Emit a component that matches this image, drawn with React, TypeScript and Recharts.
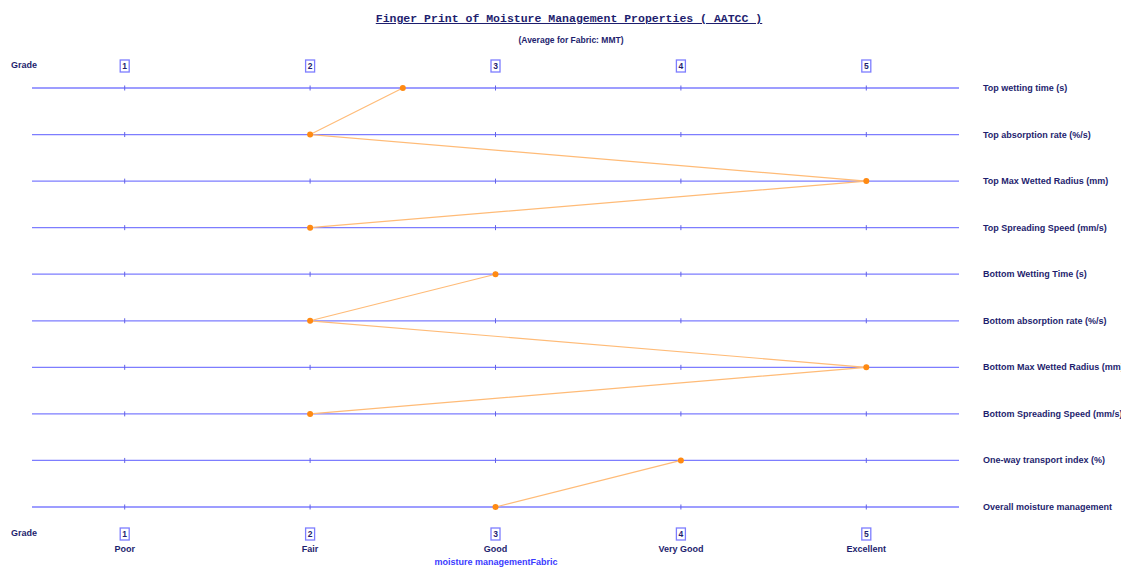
import {
  ComposedChart,
  Line,
  Scatter,
  XAxis,
  YAxis,
  CartesianGrid,
} from 'recharts'

const properties = [
  'Top wetting time (s)',
  'Top absorption rate (%/s)',
  'Top Max Wetted Radius (mm)',
  'Top Spreading Speed (mm/s)',
  'Bottom Wetting Time (s)',
  'Bottom absorption rate (%/s)',
  'Bottom Max Wetted Radius (mm)',
  'Bottom Spreading Speed (mm/s)',
  'One-way transport index (%)',
  'Overall moisture management',
]

const grades = [2.5, 2, 5, 2, 3, 2, 5, 2, 4, 3]

// rows joined by one polyline: top surface, bottom surface, overall
const groups = [
  [0, 1, 2, 3],
  [4, 5, 6, 7],
  [8, 9],
]

const gradeTicks = [1, 2, 3, 4, 5]
const gradeNames = ['Poor', 'Fair', 'Good', 'Very Good', 'Excellent']

const NAVY = '#1e1e6e'
const BLUE = '#7d7dff'
const FONT = '"Liberation Sans", Arial, sans-serif'

const rows = properties.map((name, i) => ({ idx: i, name, grade: grades[i] }))
const rowIdx = properties.map((_, i) => i)
const tickMarks = rowIdx.flatMap((i) => gradeTicks.map((g) => ({ idx: i, grade: g })))

function GradeBox({ x, y, value }: { x: number; y: number; value: number }) {
  return (
    <g>
      <rect x={x - 4.5} y={y - 6} width={9} height={12} fill="#fff" stroke={BLUE} strokeWidth={1.3} />
      <text x={x} y={y + 3} textAnchor="middle" fontFamily={FONT} fontWeight="bold" fontSize={8.5} fill={NAVY}>
        {value}
      </text>
    </g>
  )
}

function TopTick(props: any) {
  const { x, y, payload } = props
  return <GradeBox x={x} y={y - 22} value={payload.value} />
}

function BottomTick(props: any) {
  const { x, y, payload } = props
  const name = gradeNames[gradeTicks.indexOf(payload.value)]
  return (
    <g>
      <GradeBox x={x} y={y + 27} value={payload.value} />
      <text x={x} y={y + 45} textAnchor="middle" fontFamily={FONT} fontWeight="bold" fontSize={9} fill={NAVY}>
        {name}
      </text>
    </g>
  )
}

function RowTick(props: any) {
  const { x, y, payload } = props
  return (
    <text x={x + 24} y={y + 3} textAnchor="start" fontFamily={FONT} fontWeight="bold" fontSize={9} fill={NAVY}>
      {properties[payload.value]}
    </text>
  )
}

function TickMark(props: any) {
  const { cx, cy } = props
  return <line x1={cx} y1={cy - 2.5} x2={cx} y2={cy + 2.5} stroke="#6262e6" strokeWidth={1} />
}

export default function App() {
  return (
    <div
      style={{
        position: 'absolute',
        left: 0,
        top: 0,
        width: 1121,
        height: 570,
        background: '#fff',
        fontFamily: FONT,
        overflow: 'hidden',
      }}
    >
      <ComposedChart
        layout="vertical"
        width={1121}
        height={570}
        data={rows}
        margin={{ top: 0, right: 0, bottom: 0, left: 32 }}
      >
        <CartesianGrid vertical={false} stroke={BLUE} strokeWidth={1.3} xAxisId="bottom" yAxisId="rows" />
        <XAxis
          xAxisId="top"
          orientation="top"
          type="number"
          dataKey="grade"
          domain={[0.5, 5.5]}
          ticks={gradeTicks}
          height={88}
          axisLine={false}
          tickLine={false}
          tickSize={0}
          tickMargin={0}
          tick={<TopTick />}
        />
        <XAxis
          xAxisId="bottom"
          orientation="bottom"
          type="number"
          dataKey="grade"
          domain={[0.5, 5.5]}
          ticks={gradeTicks}
          height={63}
          axisLine={false}
          tickLine={false}
          tickSize={0}
          tickMargin={0}
          tick={<BottomTick />}
        />
        <YAxis
          yAxisId="rows"
          orientation="right"
          type="number"
          dataKey="idx"
          domain={[0, 9]}
          ticks={rowIdx}
          interval={0}
          width={162}
          axisLine={false}
          tickLine={false}
          tickSize={0}
          tickMargin={0}
          tick={<RowTick />}
        />
        <Scatter
          data={tickMarks}
          xAxisId="bottom"
          yAxisId="rows"
          dataKey="grade"
          shape={<TickMark />}
          isAnimationActive={false}
        />
        {groups.map((g, k) => (
          <Line
            key={k}
            data={g.map((i) => rows[i])}
            dataKey="grade"
            xAxisId="bottom"
            yAxisId="rows"
            stroke="#ffbb77"
            strokeWidth={1.2}
            dot={{ r: 3, fill: '#ff8a12', stroke: 'none' }}
            activeDot={false}
            isAnimationActive={false}
          />
        ))}
      </ComposedChart>

      <div
        style={{
          position: 'absolute',
          left: 0,
          width: 1138,
          top: 12,
          textAlign: 'center',
          fontFamily: '"Liberation Mono", "Courier New", monospace',
          fontWeight: 'bold',
          fontSize: 11.5,
          color: NAVY,
          textDecoration: 'underline',
        }}
      >
        Finger Print of Moisture Management Properties ( AATCC )
      </div>
      <div
        style={{
          position: 'absolute',
          left: 0,
          width: 1142,
          top: 35,
          textAlign: 'center',
          fontWeight: 'bold',
          fontSize: 8.5,
          color: NAVY,
        }}
      >
        (Average for Fabric: MMT)
      </div>
      <div style={{ position: 'absolute', left: 11, top: 60, fontWeight: 'bold', fontSize: 9, color: NAVY }}>Grade</div>
      <div style={{ position: 'absolute', left: 11, top: 528, fontWeight: 'bold', fontSize: 9, color: NAVY }}>Grade</div>
      <div
        style={{
          position: 'absolute',
          left: 0,
          width: 992,
          top: 557,
          textAlign: 'center',
          fontWeight: 'bold',
          fontSize: 9,
          color: '#3b3bff',
        }}
      >
        moisture managementFabric
      </div>
    </div>
  )
}
